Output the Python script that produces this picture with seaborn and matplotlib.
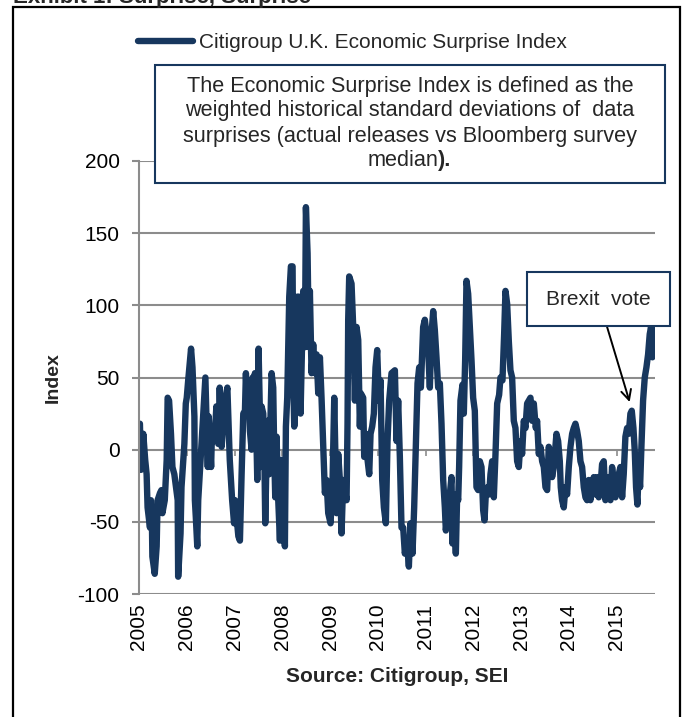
import matplotlib
matplotlib.use("Agg")
import matplotlib.pyplot as plt
from matplotlib.patches import Rectangle
import pandas as pd
import seaborn as sns

# Citigroup U.K. Economic Surprise Index (decimal years)
years = [
    2005.02, 2005.04, 2005.09, 2005.13, 2005.16, 2005.18, 2005.23, 2005.25, 2005.27, 2005.28,
    2005.33, 2005.37, 2005.39, 2005.44, 2005.47, 2005.49, 2005.54, 2005.58, 2005.60, 2005.63,
    2005.67, 2005.70, 2005.74, 2005.79, 2005.81, 2005.82, 2005.87, 2005.89, 2005.95, 2005.98,
    2006.00, 2006.03, 2006.09, 2006.12, 2006.16, 2006.17, 2006.19, 2006.22, 2006.24, 2006.28,
    2006.31, 2006.39, 2006.44, 2006.46, 2006.51, 2006.53, 2006.58, 2006.62, 2006.66, 2006.69,
    2006.73, 2006.80, 2006.85, 2006.90, 2006.95, 2006.99, 2007.01, 2007.08,
    2007.113, 2007.148, 2007.183, 2007.218, 2007.238, 2007.266, 2007.287, 2007.322, 2007.357, 2007.378,
    2007.406, 2007.427, 2007.448, 2007.476, 2007.503, 2007.531, 2007.545, 2007.566, 2007.601, 2007.622,
    2007.643, 2007.671, 2007.692, 2007.727, 2007.755, 2007.776, 2007.810, 2007.831, 2007.852, 2007.880,
    2007.915, 2007.950, 2007.985, 2008.020, 2008.054, 2008.075, 2008.103, 2008.145, 2008.180, 2008.215,
    2008.229, 2008.250, 2008.285, 2008.312, 2008.347, 2008.382, 2008.403, 2008.438, 2008.473, 2008.494,
    2008.529, 2008.556, 2008.577, 2008.612, 2008.647, 2008.682, 2008.717, 2008.752, 2008.787, 2008.821,
    2008.856, 2008.891, 2008.926, 2008.961, 2009.010, 2009.052, 2009.087, 2009.135, 2009.170, 2009.205,
    2009.240, 2009.275,
    2009.345, 2009.365, 2009.379, 2009.400, 2009.449, 2009.484, 2009.519, 2009.554, 2009.589, 2009.623,
    2009.644, 2009.693, 2009.714, 2009.749, 2009.784, 2009.819, 2009.847, 2009.881, 2009.916, 2009.951,
    2009.986, 2010.021, 2010.056, 2010.091, 2010.126, 2010.167, 2010.202, 2010.237, 2010.286, 2010.356,
    2010.391, 2010.425, 2010.460, 2010.495, 2010.530, 2010.565, 2010.607, 2010.649, 2010.683, 2010.725,
    2010.760, 2010.795, 2010.830, 2010.865, 2010.900, 2010.948, 2010.983, 2011.018, 2011.053, 2011.088,
    2011.123, 2011.158, 2011.192, 2011.227, 2011.262, 2011.297, 2011.332, 2011.367, 2011.402, 2011.423,
    2011.458,
    2011.506, 2011.541, 2011.562, 2011.590, 2011.611, 2011.632, 2011.660, 2011.681, 2011.701, 2011.729,
    2011.771, 2011.799, 2011.827, 2011.855, 2011.890, 2011.925, 2011.960, 2011.994, 2012.029, 2012.064,
    2012.099, 2012.134, 2012.169, 2012.204, 2012.232, 2012.259, 2012.294, 2012.329, 2012.357, 2012.392,
    2012.427, 2012.462, 2012.497, 2012.538, 2012.566, 2012.608, 2012.643, 2012.671, 2012.706, 2012.741,
    2012.775, 2012.810, 2012.845, 2012.880, 2012.915, 2012.950, 2012.985, 2013.019, 2013.054, 2013.089,
    2013.124, 2013.159, 2013.194, 2013.229, 2013.264, 2013.305, 2013.333, 2013.368, 2013.403, 2013.438,
    2013.473, 2013.508, 2013.543, 2013.577, 2013.612, 2013.647, 2013.682, 2013.717,
    2013.738, 2013.773, 2013.808, 2013.828, 2013.856, 2013.891, 2013.926, 2013.961, 2013.996, 2014.031,
    2014.066, 2014.100, 2014.135, 2014.170, 2014.205, 2014.240, 2014.275, 2014.310, 2014.345, 2014.379,
    2014.414, 2014.449, 2014.484, 2014.519, 2014.554, 2014.589, 2014.623, 2014.658, 2014.693, 2014.728,
    2014.763, 2014.798, 2014.833, 2014.868, 2014.902, 2014.937, 2014.972, 2015.007, 2015.042, 2015.077,
    2015.112, 2015.146, 2015.181, 2015.216, 2015.251, 2015.286, 2015.314, 2015.349, 2015.377, 2015.404,
    2015.432, 2015.460, 2015.488, 2015.516, 2015.551, 2015.586, 2015.621, 2015.656, 2015.690, 2015.718,
    2015.746, 2015.774, 2015.795,
]
values = [
    18, -14, 11, -7, -17, -40, -54, -35, -47, -74,
    -86, -67, -35, -30, -28, -44, -35, -7, 36, 34,
    11, -12, -17, -30, -35, -88, -58, -26, 4, 32,
    36, 48, 70, 57, 23, -35, -47, -67, -35, -12,
    6, 50, -12, 23, -12, 16, 6, 30, 4, 43,
    2, 34, 43, -7, -35, -51, -35, -60,
    -63, -17, 25, 27, 53, 25, 48, 13, 0, 50,
    2, 53, 25, -21, 70, 25, -12, 30, 25, 2,
    -51, -3, 20, -17, 25, 53, 43, -3, -33, 9,
    -35, -63, -7, -30, -67, 16, 36, 106, 127, 127,
    48, 16, 36, 106, 106, 25, 57, 110, 71, 168,
    136, 71, 110, 53, 73, 53, 66, 39, 64, 36,
    2, -30, -21, -44, -51, -21, 36, -44, -3, -21,
    -58, -21,
    -35, 18, 90, 120, 115, 85, 34, 85, 76, 16,
    39, 36, -5, 11, -7, -17, 11, 16, 25, 57,
    69, 34, 48, -21, -40, -51, 6, 34, 53, 55,
    6, 34, -5, -54, -54, -72, -63, -81, -51, -72,
    -40, 2, 46, 57, 43, 85, 90, 80, 69, 43,
    80, 96, 83, 64, 43, 46, 18, -21, -40, -56,
    -44,
    -31, -19, -65, -31, -54, -72, -31, -35, -12, 34,
    45, 25, 62, 117, 108, 85, 62, 36, 27, -26,
    -28, -8, -12, -42, -49, -31, -26, -31, -17, -8,
    -33, -3, 32, 38, 50, 48, 80, 110, 101, 75,
    55, 50, 20, 15, -8, -12, 6, -3, 20, 15,
    32, 34, 36, 20, 32, 15, 20, -3, 2, -8,
    -12, -26, -28, 2, -3, -19, -12, 2,
    11, 6, -8, -26, -35, -40, -26, -31, -12, 2,
    11, 15, 18, 13, 6, -8, -12, -26, -33, -35,
    -21, -35, -26, -19, -31, -19, -33, -26, -10, -8,
    -35, -26, -19, -35, -12, -21, -33, -28, -17, -12,
    -33, -17, 9, 15, 11, 25, 27, 15, -1, -26,
    -38, -12, -26, 2, 34, 50, 57, 66, 80, 85,
    64, 85, 76,
]
series_label = "Citigroup U.K. Economic Surprise Index"
year_ticks = list(range(2005, 2016))
y_ticks = [-100, -50, 0, 50, 100, 150, 200]

navy = "#17375E"
grid_gray = "#8C8C8C"

sns.set_theme(style="white")
plt.rcParams["font.family"] = ["Liberation Sans", "DejaVu Sans"]
plt.rcParams["axes.unicode_minus"] = False

df = pd.DataFrame({"year": years, "value": values})

fig = plt.figure(figsize=(6.88, 7.17), dpi=100)
ax = fig.add_axes([0.202, 0.1715, 0.750, 0.604])

sns.lineplot(data=df, x="year", y="value", ax=ax, color=navy, linewidth=4.6,
             label=series_label, solid_joinstyle="round", solid_capstyle="round")

ax.set_xlim(2005, 2015.8)
ax.set_ylim(-100, 200)
ax.set_yticks(y_ticks)
ax.set_xticks(year_ticks)
ax.set_xticklabels([str(y) for y in year_ticks], rotation=90, fontsize=15)
ax.tick_params(axis="x", length=0, pad=7)
ax.tick_params(axis="y", length=5, width=1.5, color=grid_gray, pad=9, labelsize=15,
               direction="out", left=True)
for t in ax.get_yticklabels() + ax.get_xticklabels():
    t.set_color("black")

ax.grid(axis="y", color=grid_gray, linewidth=1.5)
ax.set_axisbelow(True)
for side in ["top", "right", "bottom"]:
    ax.spines[side].set_visible(False)
ax.spines["left"].set_color(grid_gray)
ax.spines["left"].set_linewidth(1.5)

# small year ticks sitting on the zero line
sec = ax.secondary_xaxis(1 / 3)
sec.set_xticks(year_ticks)
sec.set_xticklabels([])
sec.tick_params(length=4, width=1.2, color=grid_gray)
sec.spines["bottom"].set_visible(False)

ax.set_xlabel("")
ax.set_ylabel("Index", fontsize=14, fontweight="bold")
ax.yaxis.set_label_coords(-0.149, 0.5)

leg = ax.legend(loc="center", bbox_to_anchor=(0.512, 0.941), bbox_transform=fig.transFigure,
                frameon=False, fontsize=15, handlelength=2.65, handletextpad=0.25)

# outer frame and clipped exhibit title
fig.add_artist(Rectangle((0.0189, -0.05), 0.9695, 1.0402, transform=fig.transFigure,
                         fill=False, edgecolor="black", linewidth=1.6))
fig.text(0.0189, 0.9958, "Exhibit 1: Surprise, Surprise", fontsize=16, fontweight="bold",
         ha="left", va="baseline")

# definition box
fig.add_artist(Rectangle((0.2253, 0.7448), 0.7413, 0.1646, transform=fig.transFigure,
                         facecolor="white", edgecolor=navy, linewidth=1.5, zorder=5))
lines = ["The Economic Surprise Index is defined as the",
         "weighted historical standard deviations of  data",
         "surprises (actual releases vs Bloomberg survey"]
for yy, line in zip([0.8787, 0.8452, 0.8103], lines):
    fig.text(0.596, yy, line, fontsize=15.6, ha="center", va="center", zorder=6)
fig.text(0.637, 0.7755, "median", fontsize=15.6, ha="right", va="center", zorder=6)
fig.text(0.637, 0.7755, ").", fontsize=15.6, fontweight="bold", ha="left", va="center", zorder=6)

# Brexit vote box and arrow
fig.add_artist(Rectangle((0.766, 0.5453), 0.2078, 0.0753, transform=fig.transFigure,
                         facecolor="white", edgecolor=navy, linewidth=1.5, zorder=5))
fig.text(0.869, 0.5816, "Brexit  vote", fontsize=15, ha="center", va="center", zorder=6)
ax.annotate("", xy=(2015.27, 33), xycoords="data",
            xytext=(605 / 688, 1 - 320 / 717), textcoords="figure fraction",
            arrowprops=dict(arrowstyle="->", color="black", lw=1.4, mutation_scale=18,
                            shrinkA=0, shrinkB=0), zorder=7)

fig.text(0.578, 0.056, "Source: Citigroup, SEI", fontsize=15, fontweight="bold",
         ha="center", va="center")

fig.savefig("out.png", dpi=100)
